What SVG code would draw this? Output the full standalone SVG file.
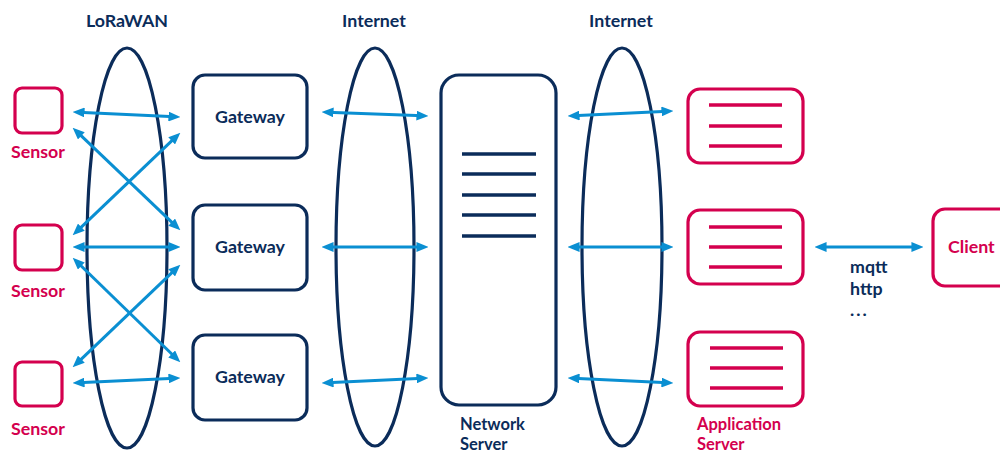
<svg xmlns="http://www.w3.org/2000/svg" width="1000" height="454" viewBox="0 0 1000 454">
<style>
.nv{fill:none;stroke:#0b2c5a;stroke-width:3.2}
.cr{fill:none;stroke:#d4004e;stroke-width:3.2}
.nl{stroke:#0b2c5a;stroke-width:3.5}
.cl{stroke:#d4004e;stroke-width:3.5}
.ar{fill:none;stroke:#0a8fd2;stroke-width:3;marker-start:url(#ah);marker-end:url(#ah)}
.t{font-family:Lato,"Open Sans",sans-serif;font-weight:bold;font-size:17.8px}
.sm{font-size:16.5px}
.tn{fill:#0b2c5a}
.tc{fill:#d4004e}
</style>
<defs>
<marker id="ah" markerUnits="userSpaceOnUse" markerWidth="12" markerHeight="10" refX="6" refY="4.5" orient="auto-start-reverse" viewBox="0 0 11 9">
<path d="M0,0 L11,4.5 L0,9 z" fill="#0a8fd2"/>
</marker>
</defs>
<rect width="1000" height="454" fill="#ffffff"/>

<g id="labels">
<text class="t tn" x="127" y="27" text-anchor="middle">LoRaWAN</text>
<text class="t tn" x="374" y="27" text-anchor="middle">Internet</text>
<text class="t tn" x="621" y="27" text-anchor="middle">Internet</text>
</g>

<g id="clouds">
<ellipse class="nv" cx="127" cy="248" rx="40" ry="200"/>
<ellipse class="nv" cx="375" cy="247" rx="39" ry="199"/>
<ellipse class="nv" cx="622" cy="247" rx="40" ry="199"/>
</g>

<g id="sensor1">
<rect class="cr" x="15" y="88" width="47" height="45" rx="7"/>
<text class="t tc" x="38" y="158" text-anchor="middle">Sensor</text>
</g>
<g id="sensor2">
<rect class="cr" x="15" y="225" width="47" height="45" rx="7"/>
<text class="t tc" x="38" y="297" text-anchor="middle">Sensor</text>
</g>
<g id="sensor3">
<rect class="cr" x="15" y="362" width="47" height="44" rx="7"/>
<text class="t tc" x="38" y="435" text-anchor="middle">Sensor</text>
</g>

<g id="gateway1">
<rect class="nv" x="193" y="75" width="114" height="83" rx="12"/>
<text class="t tn" x="250" y="123" text-anchor="middle">Gateway</text>
</g>
<g id="gateway2">
<rect class="nv" x="193" y="205" width="114" height="85" rx="12"/>
<text class="t tn" x="250" y="253" text-anchor="middle">Gateway</text>
</g>
<g id="gateway3">
<rect class="nv" x="193" y="335" width="114" height="85" rx="12"/>
<text class="t tn" x="250" y="383" text-anchor="middle">Gateway</text>
</g>

<g id="network-server">
<rect class="nv" x="441" y="75" width="115" height="330" rx="18"/>
<line class="nl" x1="462" y1="154" x2="536" y2="154"/>
<line class="nl" x1="462" y1="174" x2="536" y2="174"/>
<line class="nl" x1="462" y1="195" x2="536" y2="195"/>
<line class="nl" x1="462" y1="215" x2="536" y2="215"/>
<line class="nl" x1="462" y1="236" x2="536" y2="236"/>
<text class="t sm tn" x="460" y="430">Network</text>
<text class="t sm tn" x="460" y="450">Server</text>
</g>

<g id="app-server1">
<rect class="cr" x="688" y="89" width="115" height="74" rx="12"/>
<line class="cl" x1="709" y1="105" x2="782" y2="105"/>
<line class="cl" x1="709" y1="126" x2="782" y2="126"/>
<line class="cl" x1="709" y1="146" x2="782" y2="146"/>
</g>
<g id="app-server2">
<rect class="cr" x="688" y="210" width="115" height="74" rx="12"/>
<line class="cl" x1="709" y1="227" x2="782" y2="227"/>
<line class="cl" x1="709" y1="247" x2="782" y2="247"/>
<line class="cl" x1="709" y1="267" x2="782" y2="267"/>
</g>
<g id="app-server3">
<rect class="cr" x="688" y="332" width="115" height="74" rx="12"/>
<line class="cl" x1="710" y1="348" x2="783" y2="348"/>
<line class="cl" x1="710" y1="368" x2="783" y2="368"/>
<line class="cl" x1="710" y1="388" x2="783" y2="388"/>
<text class="t sm tc" x="697" y="430">Application</text>
<text class="t sm tc" x="697" y="450">Server</text>
</g>

<g id="client">
<rect class="cr" x="933" y="209" width="80" height="77" rx="12"/>
<text class="t tc" x="948" y="253">Client</text>
</g>

<g id="protocols">
<text class="t tn" x="850" y="273">mqtt</text>
<text class="t tn" x="850" y="295">http</text>
<text class="t tn" x="850" y="316" letter-spacing="2">...</text>
</g>

<g id="connectors">
<path class="ar" d="M78,112.2 L175,116.8"/>
<path class="ar" d="M76.6,131.4 L176.4,226.6"/>
<path class="ar" d="M76.6,231.6 L176.4,136.4"/>
<path class="ar" d="M78,247 L175,247"/>
<path class="ar" d="M76.6,261.5 L176.4,358.5"/>
<path class="ar" d="M76.6,363.6 L176.4,268.4"/>
<path class="ar" d="M78,382.8 L175,378.2"/>
<path class="ar" d="M327,112.2 L423,115.8"/>
<path class="ar" d="M327,247 L423,247"/>
<path class="ar" d="M327,382.8 L423,378.2"/>
<path class="ar" d="M573,115.8 L668,111.2"/>
<path class="ar" d="M573,247 L668,247"/>
<path class="ar" d="M573,378.2 L668,382.8"/>
<path class="ar" d="M820,247 L918,247"/>
</g>
</svg>
